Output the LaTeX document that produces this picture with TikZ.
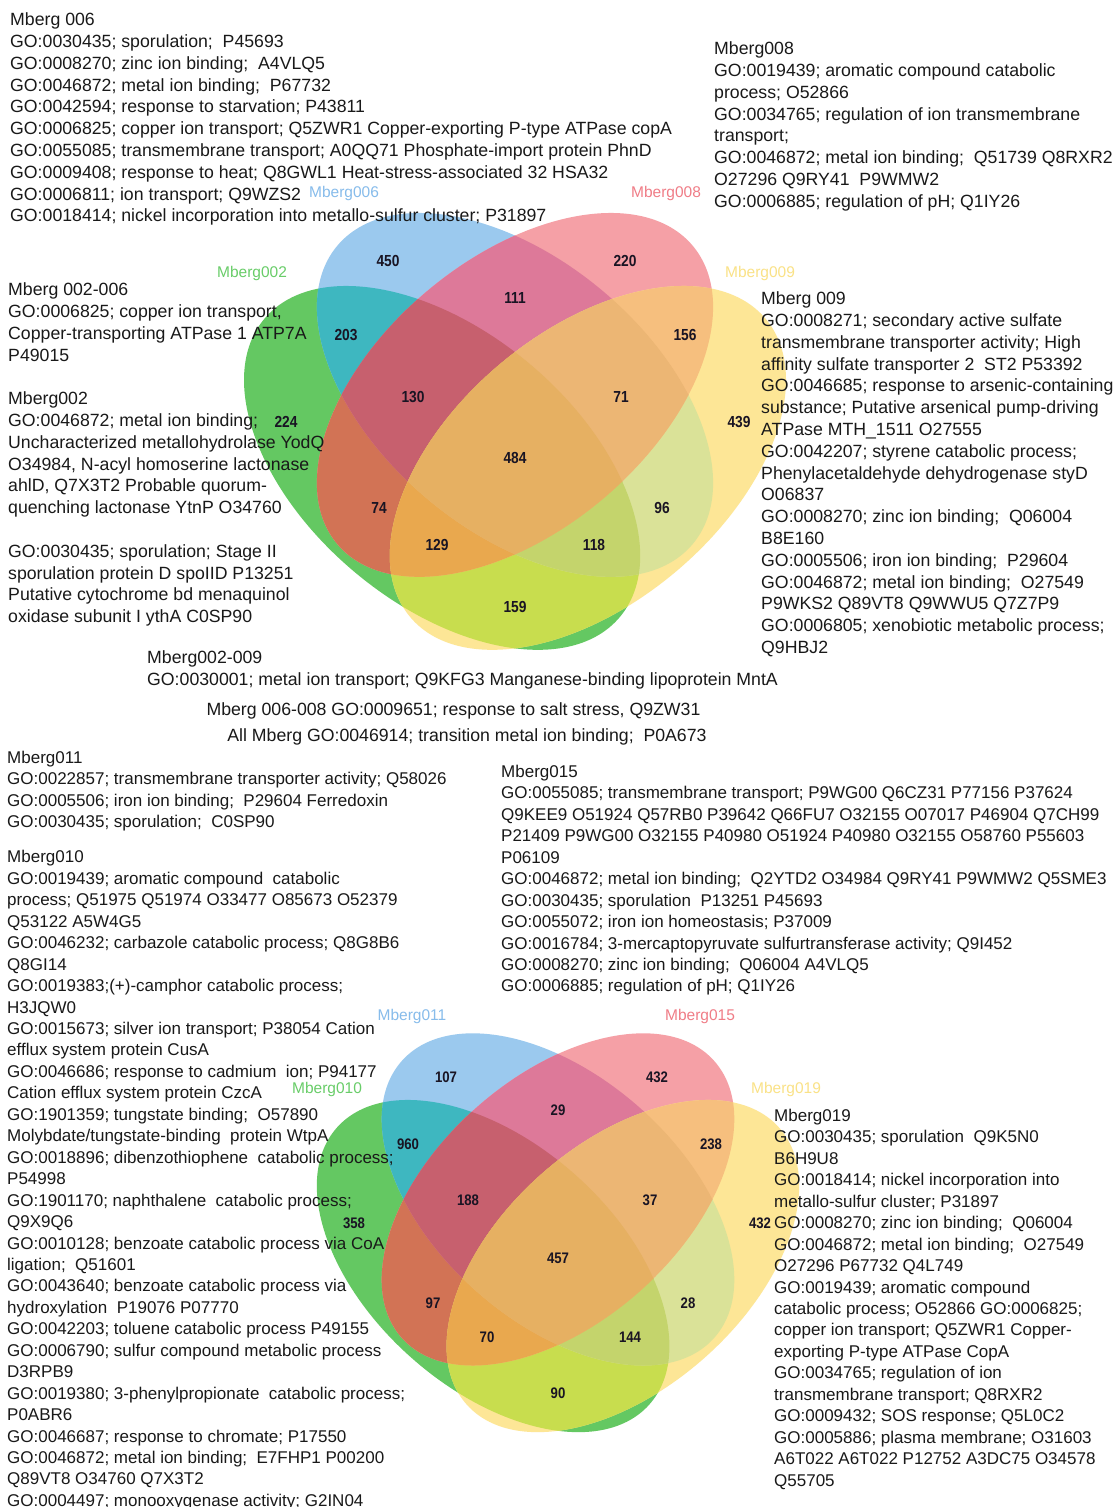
\documentclass[tikz,border=0pt]{standalone}
\usepackage{fontspec}
\setmainfont{Liberation Sans}
\newfontfamily\numfont[FakeStretch=0.86]{Liberation Sans}
% region colours
\definecolor{cG}{RGB}{100,200,98}
\definecolor{cB}{RGB}{155,201,238}
\definecolor{cR}{RGB}{245,160,166}
\definecolor{cY}{RGB}{253,230,150}
\definecolor{cGB}{RGB}{62,183,192}
\definecolor{cGR}{RGB}{210,115,85}
\definecolor{cGY}{RGB}{200,221,78}
\definecolor{cBR}{RGB}{221,121,153}
\definecolor{cBY}{RGB}{218,226,152}
\definecolor{cRY}{RGB}{246,191,126}
\definecolor{cGBR}{RGB}{199,96,110}
\definecolor{cGBY}{RGB}{196,212,108}
\definecolor{cGRY}{RGB}{233,168,78}
\definecolor{cBRY}{RGB}{236,182,116}
\definecolor{cGBRY}{RGB}{230,176,98}
% label colours
\definecolor{labblue}{RGB}{135,188,235}
\definecolor{labred}{RGB}{240,125,135}
\definecolor{labgreen}{RGB}{105,205,105}
\definecolor{labyellow}{RGB}{250,226,135}
\definecolor{txt}{RGB}{25,25,25}
\definecolor{numcol}{RGB}{25,20,35}
% ellipse paths (relative to the centre of the blue/red pair)
\def\elG{(-72.9,73) ellipse [x radius=232, y radius=136, rotate=-40]}
\def\elB{(0,0) ellipse [x radius=232, y radius=136, rotate=-40]}
\def\elR{(0,0) ellipse [x radius=232, y radius=136, rotate=40]}
\def\elY{(72.9,73) ellipse [x radius=232, y radius=136, rotate=40]}
\newcommand\vregion[2]{\begin{scope}#2\fill[#1] (-400,-400) rectangle (400,400);\end{scope}}
\newcommand\vennbody{%
  \fill[cG] \elG; \fill[cB] \elB; \fill[cR] \elR; \fill[cY] \elY;
  \vregion{cGB}{\clip\elG;\clip\elB;}
  \vregion{cGR}{\clip\elG;\clip\elR;}
  \vregion{cGY}{\clip\elG;\clip\elY;}
  \vregion{cBR}{\clip\elB;\clip\elR;}
  \vregion{cBY}{\clip\elB;\clip\elY;}
  \vregion{cRY}{\clip\elR;\clip\elY;}
  \vregion{cGBR}{\clip\elG;\clip\elB;\clip\elR;}
  \vregion{cGBY}{\clip\elG;\clip\elB;\clip\elY;}
  \vregion{cGRY}{\clip\elG;\clip\elR;\clip\elY;}
  \vregion{cBRY}{\clip\elB;\clip\elR;\clip\elY;}
  \vregion{cGBRY}{\clip\elG;\clip\elB;\clip\elR;\clip\elY;}}
\begin{document}
\begin{tikzpicture}[x=1pt,y=-1pt,
  blockA/.style={font=\fontsize{17.7}{21.8}\selectfont, align=left, anchor=north west, inner sep=0pt, text=txt},
  blockB/.style={font=\fontsize{17.0}{21.45}\selectfont, align=left, anchor=north west, inner sep=0pt, text=txt},
  lineA/.style={font=\fontsize{17.7}{21.8}\selectfont, anchor=base, inner sep=0pt, text=txt},
  num/.style={font=\numfont\fontsize{16}{16}\selectfont\bfseries, text=numcol, inner sep=0pt},
  numB/.style={font=\numfont\fontsize{15.3}{16}\selectfont\bfseries, text=numcol, inner sep=0pt},
  setlab/.style={font=\fontsize{15.5}{16}\selectfont, inner sep=0pt}]
\useasboundingbox (0,0) rectangle (1113,1507);
\fill[white] (0,0) rectangle (1113,1507);

% ---------- top Venn diagram ----------
\begin{scope}[shift={(515,394.9)}]
  \vennbody
\end{scope}

% ---------- bottom Venn diagram ----------
\begin{scope}[shift={(558,1199.4)}, xscale=0.89, yscale=0.913]
  \vennbody
\end{scope}

% ---------- set labels ----------
\node[setlab, text=labblue]   (l006) at (344,193) {Mberg006};
\node[setlab, text=labred]    (l008) at (666,193) {Mberg008};
\node[setlab, text=labgreen]  (l002) at (252,273) {Mberg002};
\node[setlab, text=labyellow] (l009) at (760,273) {Mberg009};
\node[setlab, text=labblue]   (l011) at (412,1016) {Mberg011};
\node[setlab, text=labred]    (l015) at (700,1016) {Mberg015};
\node[setlab, text=labgreen]  (l010) at (327,1089) {Mberg010};
\node[setlab, text=labyellow] (l019) at (786,1089) {Mberg019};

% ---------- region counts, top ----------
\node[num] (t450) at (388,261) {450};
\node[num] (t220) at (625,261) {220};
\node[num] (t111) at (515,298) {111};
\node[num] (t203) at (346,335) {203};
\node[num] (t156) at (685,335) {156};
\node[num] (t130) at (413,397) {130};
\node[num] (t71)  at (621,397) {71};
\node[num] (t224) at (286,422) {224};
\node[num] (t439) at (739,422) {439};
\node[num] (t484) at (515,458) {484};
\node[num] (t74)  at (379,508) {74};
\node[num] (t96)  at (662,508) {96};
\node[num] (t129) at (437,545) {129};
\node[num] (t118) at (594,545) {118};
\node[num] (t159) at (515,607) {159};

% ---------- region counts, bottom ----------
\node[numB] (b107) at (446,1077) {107};
\node[numB] (b432a) at (657,1077) {432};
\node[numB] (b29)  at (558,1110) {29};
\node[numB] (b960) at (408,1144) {960};
\node[numB] (b238) at (711,1144) {238};
\node[numB] (b188) at (468,1200) {188};
\node[numB] (b37)  at (650,1200) {37};
\node[numB] (b358) at (354,1223) {358};
\node[numB] (b432b) at (760,1223) {432};
\node[numB] (b457) at (558,1258) {457};
\node[numB] (b97)  at (433,1303) {97};
\node[numB] (b28)  at (688,1303) {28};
\node[numB] (b70)  at (487,1337) {70};
\node[numB] (b144) at (630,1337) {144};
\node[numB] (b90)  at (558,1393) {90};

% ---------- text blocks, top ----------
\node[blockA] (m006) at (10,12.6) {Mberg 006\\
GO:0030435; sporulation;\ \ P45693\\
GO:0008270; zinc ion binding;\ \ A4VLQ5\\
GO:0046872; metal ion binding;\ \ P67732\\
GO:0042594; response to starvation; P43811\\
GO:0006825; copper ion transport; Q5ZWR1 Copper-exporting P-type ATPase copA\\
GO:0055085; transmembrane transport; A0QQ71 Phosphate-import protein PhnD\\
GO:0009408; response to heat; Q8GWL1 Heat-stress-associated 32 HSA32\\
GO:0006811; ion transport; Q9WZS2\\
GO:0018414; nickel incorporation into metallo-sulfur cluster; P31897};

\node[blockA] (m008) at (714,41.6) {Mberg008\\
GO:0019439; aromatic compound catabolic\\
process; O52866\\
GO:0034765; regulation of ion transmembrane\\
transport;\\
GO:0046872; metal ion binding;\ \ Q51739 Q8RXR2\\
O27296 Q9RY41\ \ P9WMW2\\
GO:0006885; regulation of pH; Q1IY26};

\node[blockA] (m002) at (8,282.6) {Mberg 002-006\\
GO:0006825; copper ion transport,\\
Copper-transporting ATPase 1 ATP7A\\
P49015\\[21.8pt]
Mberg002\\
GO:0046872; metal ion binding;\\
Uncharacterized metallohydrolase YodQ\\
O34984, N-acyl homoserine lactonase\\
ahlD, Q7X3T2 Probable quorum-\\
quenching lactonase YtnP O34760\\[21.8pt]
GO:0030435; sporulation; Stage II\\
sporulation protein D spoIID P13251\\
Putative cytochrome bd menaquinol\\
oxidase subunit I ythA C0SP90};

\node[blockA] (m009) at (761,291.6) {Mberg 009\\
GO:0008271; secondary active sulfate\\
transmembrane transporter activity; High\\
affinity sulfate transporter 2\ \ ST2 P53392\\
GO:0046685; response to arsenic-containing\\
substance; Putative arsenical pump-driving\\
ATPase MTH\_1511 O27555\\
GO:0042207; styrene catabolic process;\\
Phenylacetaldehyde dehydrogenase styD\\
O06837\\
GO:0008270; zinc ion binding;\ \ Q06004\\
B8E160\\
GO:0005506; iron ion binding;\ \ P29604\\
GO:0046872; metal ion binding;\ \ O27549\\
P9WKS2 Q89VT8 Q9WWU5 Q7Z7P9\\
GO:0006805; xenobiotic metabolic process;\\
Q9HBJ2};

\node[blockA] (m002009) at (147,650.6) {Mberg002-009\\
GO:0030001; metal ion transport; Q9KFG3 Manganese-binding lipoprotein MntA};

\node[lineA] (m006008) at (453.5,715.4) {Mberg 006-008 GO:0009651; response to salt stress, Q9ZW31};
\node[lineA] (mall) at (467,741.4) {All Mberg GO:0046914; transition metal ion binding;\ \ P0A673};

% ---------- text blocks, bottom ----------
\node[blockB] (m011) at (7,750.9) {Mberg011\\
GO:0022857; transmembrane transporter activity; Q58026\\
GO:0005506; iron ion binding;\ \ P29604 Ferredoxin\\
GO:0030435; sporulation;\ \ C0SP90};

\node[blockB] (m010) at (7,850.4) {Mberg010\\
GO:0019439; aromatic compound\ \ catabolic\\
process; Q51975 Q51974 O33477 O85673 O52379\\
Q53122 A5W4G5\\
GO:0046232; carbazole catabolic process; Q8G8B6\\
Q8GI14\\
GO:0019383;(+)-camphor catabolic process;\\
H3JQW0\\
GO:0015673; silver ion transport; P38054 Cation\\
efflux system protein CusA\\
GO:0046686; response to cadmium\ \ ion; P94177\\
Cation efflux system protein CzcA\\
GO:1901359; tungstate binding;\ \ O57890\\
Molybdate/tungstate-binding\ \ protein WtpA\\
GO:0018896; dibenzothiophene\ \ catabolic process;\\
P54998\\
GO:1901170; naphthalene\ \ catabolic process;\\
Q9X9Q6\\
GO:0010128; benzoate catabolic process via CoA\\
ligation;\ \ Q51601\\
GO:0043640; benzoate catabolic process via\\
hydroxylation\ \ P19076 P07770\\
GO:0042203; toluene catabolic process P49155\\
GO:0006790; sulfur compound metabolic process\\
D3RPB9\\
GO:0019380; 3-phenylpropionate\ \ catabolic process;\\
P0ABR6\\
GO:0046687; response to chromate; P17550\\
GO:0046872; metal ion binding;\ \ E7FHP1 P00200\\
Q89VT8 O34760 Q7X3T2\\
GO:0004497; monooxygenase activity; G2IN04};

\node[blockB] (m015) at (501,764.9) {Mberg015\\
GO:0055085; transmembrane transport; P9WG00 Q6CZ31 P77156 P37624\\
Q9KEE9 O51924 Q57RB0 P39642 Q66FU7 O32155 O07017 P46904 Q7CH99\\
P21409 P9WG00 O32155 P40980 O51924 P40980 O32155 O58760 P55603\\
P06109\\
GO:0046872; metal ion binding;\ \ Q2YTD2 O34984 Q9RY41 P9WMW2 Q5SME3\\
GO:0030435; sporulation\ \ P13251 P45693\\
GO:0055072; iron ion homeostasis; P37009\\
GO:0016784; 3-mercaptopyruvate sulfurtransferase activity; Q9I452\\
GO:0008270; zinc ion binding;\ \ Q06004 A4VLQ5\\
GO:0006885; regulation of pH; Q1IY26};

\node[blockB] (m019) at (774,1108.9) {Mberg019\\
GO:0030435; sporulation\ \ Q9K5N0\\
B6H9U8\\
GO:0018414; nickel incorporation into\\
metallo-sulfur cluster; P31897\\
GO:0008270; zinc ion binding;\ \ Q06004\\
GO:0046872; metal ion binding;\ \ O27549\\
O27296 P67732 Q4L749\\
GO:0019439; aromatic compound\\
catabolic process; O52866 GO:0006825;\\
copper ion transport; Q5ZWR1 Copper-\\
exporting P-type ATPase CopA\\
GO:0034765; regulation of ion\\
transmembrane transport; Q8RXR2\\
GO:0009432; SOS response; Q5L0C2\\
GO:0005886; plasma membrane; O31603\\
A6T022 A6T022 P12752 A3DC75 O34578\\
Q55705};
\end{tikzpicture}
\end{document}
